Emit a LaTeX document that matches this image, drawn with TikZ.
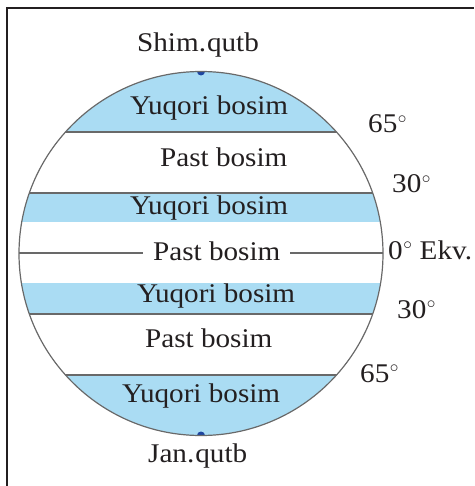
\documentclass[tikz,border=0pt]{standalone}
\usepackage{fontspec}
\setmainfont{Liberation Serif}[FakeStretch=1.08]
\definecolor{bandblue}{RGB}{170,220,243}
\definecolor{linegray}{RGB}{105,105,105}
\definecolor{poleblue}{RGB}{30,70,160}
\definecolor{ink}{RGB}{35,31,32}
\newcommand{\dgr}{\kern0.5pt$^{\circ}$}
\begin{document}
\begin{tikzpicture}[x=1pt,y=-1pt,
  lbl/.style={anchor=base west, inner sep=0pt, font=\fontsize{27}{30}\selectfont, text=ink},
  lat/.style={draw=linegray, line width=1.3pt}]
\useasboundingbox (0,0) rectangle (474,486);
\coordinate (c) at (201,253.5);
\begin{scope}
  \clip (c) circle (182pt);
  \fill[bandblue] (0,0) rectangle (474,132);
  \fill[bandblue] (0,193) rectangle (474,222);
  \fill[bandblue] (0,283) rectangle (474,314);
  \fill[bandblue] (0,375) rectangle (474,486);
  \fill[poleblue] (201,71.5) circle (4pt);
  \fill[poleblue] (201,435.5) circle (4pt);
  \draw[lat] (0,132) -- (474,132);
  \draw[lat] (0,193) -- (474,193);
  \draw[lat] (0,253) -- (474,253);
  \draw[lat] (0,314) -- (474,314);
  \draw[lat] (0,375) -- (474,375);
\end{scope}
\draw[linegray, line width=1.2pt] (c) circle (182pt);
% frame
\draw[ink, line width=2.5pt] (7,486) -- (7,8) -- (474,8);
% labels
\node[lbl] (np) at (137,52) {Shim.\kern1pt qutb};
\node[lbl] (y1) at (130,115) {Yuqori bosim};
\node[lbl] (p1) at (160,167) {Past bosim};
\node[lbl] (y2) at (130,214) {Yuqori bosim};
\node[lbl, fill=white, inner xsep=10pt] (p2) at (143,260) {Past bosim};
\node[lbl] (y3) at (137,302) {Yuqori bosim};
\node[lbl] (p3) at (145,347) {Past bosim};
\node[lbl] (y4) at (122,402) {Yuqori bosim};
\node[lbl] (sp) at (148,462) {Jan.\kern1pt qutb};
\node[lbl] (n65) at (368,133) {65\dgr};
\node[lbl] (n30) at (392,193) {30\dgr};
\node[lbl] (eq) at (388,259) {0\dgr\ Ekv.};
\node[lbl] (s30) at (397,318) {30\dgr};
\node[lbl] (s65) at (360,382) {65\dgr};
\end{tikzpicture}
\end{document}
